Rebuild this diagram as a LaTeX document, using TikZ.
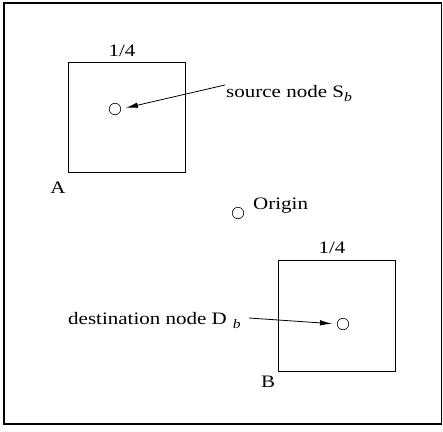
\documentclass[tikz,border=0pt]{standalone}
\usepackage{fontspec}
\setmainfont[FakeStretch=1.2]{Liberation Serif}
\usetikzlibrary{arrows.meta}
\newcommand{\subb}{\raisebox{-4pt}{\fontsize{13}{13}\selectfont\itshape b}}
\begin{document}
\begin{tikzpicture}[x=1pt,y=-1pt,
  lbl/.style={inner sep=0pt,anchor=base,font=\fontsize{17.5}{19}\selectfont},
  pt/.style={circle,draw,inner sep=0pt,minimum size=11.5pt,line width=0.6pt},
  region/.style={draw,line width=0.8pt},
  ptr/.style={line width=0.8pt,shorten >=5pt,-{Latex[length=12pt,width=5.5pt]}}]
\useasboundingbox (0,0) rectangle (443,431);
\draw[line width=1.2pt] (4,3) rectangle (441.5,424);
% region A
\draw[region] (68,62) rectangle (185,172);
\node[lbl] (qa) at (122,56) {1/4};
\node[lbl] (la) at (58,193) {A};
\node[pt] (sb) at (115,109) {};
\node[lbl,anchor=base west] (st) at (226,97) {source node S\subb};
\coordinate (sfrom) at (225,85);
\draw[ptr] (sfrom) -- (sb.east);
% origin
\node[pt] (org) at (238,213) {};
\node[lbl,anchor=base west] (ot) at (253,209) {Origin};
% region B
\draw[region] (278,260) rectangle (395,371);
\node[lbl] (qb) at (332,253) {1/4};
\node[lbl] (lb) at (268,387) {B};
\node[pt] (db) at (343,324) {};
\node[lbl,anchor=base west] (dt) at (68,324) {destination node D\hspace{6pt}\subb};
\coordinate (dfrom) at (249,318);
\draw[ptr] (dfrom) -- (db.west);
\end{tikzpicture}
\end{document}
